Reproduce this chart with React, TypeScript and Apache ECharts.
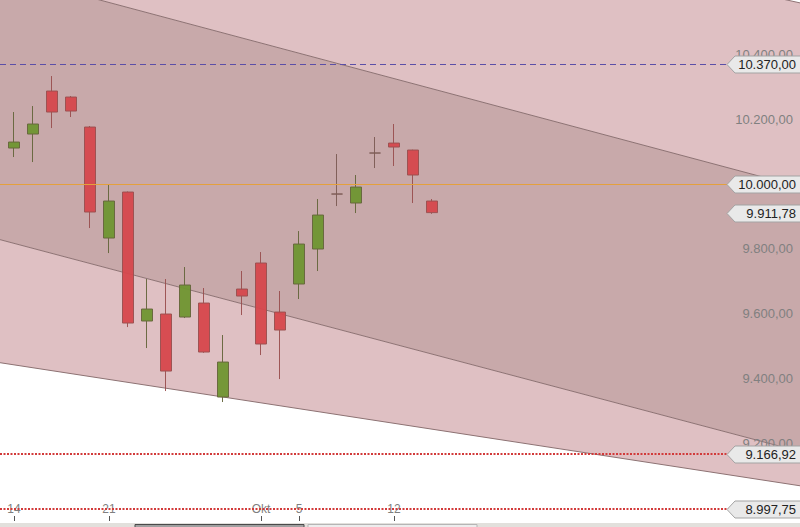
import React, { useEffect, useRef } from 'react';
import * as echarts from 'echarts';

// Trading days (category axis)
const categories = [
  '2015-09-14', '2015-09-15', '2015-09-16', '2015-09-17', '2015-09-18',
  '2015-09-21', '2015-09-22', '2015-09-23', '2015-09-24', '2015-09-25',
  '2015-09-28', '2015-09-29', '2015-09-30', '2015-10-01', '2015-10-02',
  '2015-10-05', '2015-10-06', '2015-10-07', '2015-10-08', '2015-10-09',
  '2015-10-12', '2015-10-13', '2015-10-14', '2015-10-15', '2015-10-16',
  '2015-10-19', '2015-10-20', '2015-10-21', '2015-10-22', '2015-10-23',
  '2015-10-26', '2015-10-27', '2015-10-28', '2015-10-29', '2015-10-30',
  '2015-11-02', '2015-11-03', '2015-11-04', '2015-11-05', '2015-11-06',
  '2015-11-09', '2015-11-10',
];

// [open, close, low, high]
const candles = [
  [10111.1, 10129.6, 10083.3, 10222.2],
  [10154.3, 10185.2, 10067.9, 10240.7],
  [10287.0, 10222.2, 10172.8, 10333.3],
  [10268.5, 10225.3, 10206.8, 10271.6],
  [10175.9, 9913.6, 9864.2, 10179.0],
  [9833.3, 9947.5, 9787.0, 10000.0],
  [9975.3, 9571.0, 9558.6, 9977.0],
  [9577.2, 9614.2, 9493.8, 9706.8],
  [9598.8, 9422.8, 9361.1, 9706.8],
  [9589.5, 9688.3, 9586.4, 9743.8],
  [9632.7, 9481.5, 9479.0, 9679.0],
  [9342.6, 9450.6, 9327.2, 9534.0],
  [9675.9, 9654.3, 9595.7, 9731.5],
  [9756.2, 9506.2, 9472.2, 9790.1],
  [9604.9, 9549.4, 9398.1, 9669.8],
  [9691.4, 9814.8, 9645.1, 9854.9],
  [9799.4, 9904.3, 9731.5, 9953.7],
  [9969.1, 9969.1, 9932.1, 10092.6],
  [9941.4, 9990.7, 9910.5, 10027.8],
  [10095.7, 10095.7, 10049.4, 10145.1],
  [10126.5, 10114.2, 10055.6, 10185.2],
  [10104.9, 10027.8, 9941.4, 10106.0],
  [9947.5, 9911.78, 9908.0, 9953.7],
];

const tickLabelDates = ['2015-09-14', '2015-09-21', '2015-10-01', '2015-10-05', '2015-10-12'];
const tickLabelTexts = ['14', '21', 'Okt', '5', '12'];

const yTickValues = [9000, 9200, 9400, 9600, 9800, 10000, 10200, 10400];
const yMin = 8960;
const yMax = 10568;

// Channel lines: price at category index channelEnds[0] and channelEnds[1]
const channelEnds = [-2, 42];
const lineA = [11117, 10551];
const lineB = [10670, 9981];
const lineC = [9848, 9164.5];
const lineD = [9460, 9063];

// Horizontal levels
const levelValues = [10370, 10000, 9166.92, 8997.75];
// Price tags at right edge
const tagValues = [10370, 10000, 9911.78, 9166.92, 8997.75];

const FONT = '"Liberation Sans", Arial, sans-serif';

function fmt(v: number): string {
  const s = v.toFixed(2);
  const [ip, dp] = s.split('.');
  const withDots = ip.replace(/\B(?=(\d{3})+(?!\d))/g, '.');
  return withDots + ',' + dp;
}

const levelStyles = [
  { stroke: '#5b4fa8', lineWidth: 1, lineDash: [6, 4] },
  { stroke: '#e4a03c', lineWidth: 1 },
  { stroke: '#d23a3a', lineWidth: 2, lineDash: [2, 1.5] },
  { stroke: '#d23a3a', lineWidth: 2, lineDash: [2, 1.5] },
];

export default function App() {
  const ref = useRef<HTMLDivElement>(null);

  useEffect(() => {
    if (!ref.current) return;
    const chart = echarts.init(ref.current, undefined, { renderer: 'svg' });
    const labelMap: Record<string, string> = {};
    tickLabelDates.forEach((d, i) => (labelMap[d] = tickLabelTexts[i]));
    const showTick = (_i: number, v: string) => labelMap[v] != null;

    const option: any = {
      animation: false,
      backgroundColor: '#ffffff',
      textStyle: { fontFamily: FONT },
      grid: [
        { left: 4.5, right: -2.5, top: 0, bottom: 6, outerBoundsMode: 'none' },
        { left: 0, right: 0, top: 0, bottom: 6, outerBoundsMode: 'none' },
      ],
      xAxis: [
        {
          type: 'category',
          gridIndex: 0,
          data: categories,
          boundaryGap: true,
          axisLine: { show: false },
          axisTick: {
            show: true,
            inside: true,
            length: 5,
            alignWithLabel: true,
            interval: showTick,
            lineStyle: { color: '#555555' },
          },
          axisLabel: {
            inside: true,
            margin: 6,
            interval: showTick,
            formatter: (v: string) => labelMap[v] || '',
            color: '#7f7f7f',
            fontSize: 12,
            fontFamily: FONT,
          },
          splitLine: { show: false },
          z: 3,
        },
        {
          type: 'value',
          gridIndex: 1,
          min: 0,
          max: 1,
          show: false,
        },
      ],
      yAxis: [
        { type: 'value', gridIndex: 0, min: yMin, max: yMax, show: false },
        {
          type: 'value',
          gridIndex: 1,
          min: yMin,
          max: yMax,
          position: 'right',
          axisLine: { show: false },
          axisTick: {
            show: true,
            inside: true,
            length: 5,
            customValues: yTickValues,
            lineStyle: { color: '#555555' },
          },
          axisLabel: {
            inside: true,
            margin: 7,
            customValues: yTickValues,
            formatter: (v: number) => fmt(v),
            color: '#808080',
            fontSize: 13,
            fontFamily: FONT,
          },
          splitLine: { show: false },
          z: 3,
        },
      ],
      series: [
        {
          type: 'custom',
          xAxisIndex: 0,
          yAxisIndex: 0,
          z: 0,
          clip: false,
          silent: true,
          data: [[0, 10000]],
          renderItem: (_params: any, api: any) => {
            const p = (i: number, v: number) => api.coord([i, v]);
            const [i0, i1] = channelEnds;
            const A0 = p(i0, lineA[0]), A1 = p(i1, lineA[1]);
            const B0 = p(i0, lineB[0]), B1 = p(i1, lineB[1]);
            const C0 = p(i0, lineC[0]), C1 = p(i1, lineC[1]);
            const D0 = p(i0, lineD[0]), D1 = p(i1, lineD[1]);
            const stroke = { stroke: '#8d7273', lineWidth: 1, fill: null };
            return {
              type: 'group',
              children: [
                { type: 'polygon', shape: { points: [A0, A1, B1, B0] }, style: { fill: '#dfc0c3' } },
                { type: 'polygon', shape: { points: [B0, B1, C1, C0] }, style: { fill: '#c8a9aa' } },
                { type: 'polygon', shape: { points: [C0, C1, D1, D0] }, style: { fill: '#dfc0c3' } },
                { type: 'polyline', shape: { points: [A0, A1] }, style: stroke },
                { type: 'polyline', shape: { points: [B0, B1] }, style: stroke },
                { type: 'polyline', shape: { points: [C0, C1] }, style: stroke },
                { type: 'polyline', shape: { points: [D0, D1] }, style: stroke },
              ],
            };
          },
        },
        {
          type: 'candlestick',
          xAxisIndex: 0,
          yAxisIndex: 0,
          z: 2,
          barWidth: 12,
          data: candles,
          itemStyle: {
            color: '#6f9530',
            color0: '#d6474c',
            borderColor: '#66663c',
            borderColor0: '#9a5050',
            borderColorDoji: '#7d5c55',
            borderWidth: 1,
            opacity: 0.95,
          },
        },
        {
          type: 'custom',
          xAxisIndex: 1,
          yAxisIndex: 1,
          z: 4,
          silent: true,
          data: levelValues.map((v) => [0.5, v]),
          renderItem: (params: any, api: any) => {
            const cs = params.coordSys;
            const y0 = api.coord([0.5, api.value(1)])[1];
            const st = levelStyles[params.dataIndex];
            const y = st.lineWidth === 1 ? Math.round(y0) + 0.5 : Math.round(y0);
            return {
              type: 'line',
              shape: { x1: cs.x, y1: y, x2: cs.x + cs.width, y2: y },
              style: { ...st, fill: null },
            };
          },
        },
        {
          type: 'custom',
          xAxisIndex: 1,
          yAxisIndex: 1,
          z: 5,
          silent: true,
          data: tagValues.map((v) => [0.5, v]),
          renderItem: (params: any, api: any) => {
            const cs = params.coordSys;
            const v = api.value(1);
            const y = Math.round(api.coord([0.5, v])[1]) + 0.5;
            const right = cs.x + cs.width;
            const h = 8.5;
            return {
              type: 'group',
              children: [
                {
                  type: 'polygon',
                  shape: {
                    points: [
                      [right - 73, y],
                      [right - 65, y - h],
                      [right + 2, y - h],
                      [right + 2, y + h],
                      [right - 65, y + h],
                    ],
                  },
                  style: { fill: '#e9e9e9', stroke: '#a3a3a3', lineWidth: 1 },
                },
                {
                  type: 'text',
                  style: {
                    x: right - 4,
                    y: y,
                    text: fmt(v),
                    align: 'right',
                    verticalAlign: 'middle',
                    fill: '#222222',
                    font: '13px ' + FONT,
                  },
                },
              ],
            };
          },
        },
      ],
      graphic: [
        { type: 'rect', z: 10, shape: { x: 0, y: 523, width: 800, height: 4 }, style: { fill: '#e2e0dc' } },
        { type: 'rect', z: 11, shape: { x: 135, y: 524.5, width: 169, height: 4 }, style: { fill: '#a0a0a0', stroke: '#4a4a4a', lineWidth: 1 } },
        { type: 'rect', z: 11, shape: { x: 308, y: 524.5, width: 169, height: 4 }, style: { fill: '#ededed', stroke: '#b5b5b5', lineWidth: 1 } },
      ],
    };

    chart.setOption(option);
    return () => chart.dispose();
  }, []);

  return (
    <div
      ref={ref}
      style={{ position: 'fixed', left: 0, top: 0, width: 800, height: 527 }}
    />
  );
}
